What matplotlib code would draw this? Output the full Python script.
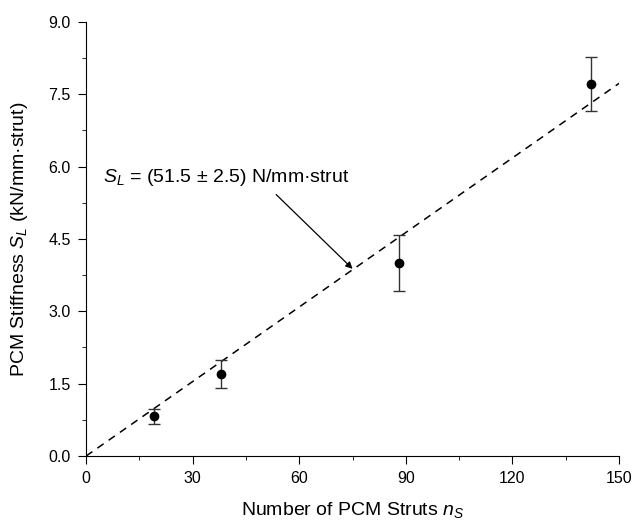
import numpy as np
import matplotlib.pyplot as plt
from matplotlib.ticker import AutoMinorLocator

# data
struts = [19, 38, 88, 142]
stiffness = [0.82, 1.70, 4.00, 7.72]
stiff_err = [0.15, 0.30, 0.58, 0.56]

slope = 0.0515  # kN/mm per strut (51.5 N/mm.strut)
fit_x = [0, 150]

plt.rcParams['font.family'] = 'Liberation Sans'
plt.rcParams['mathtext.fontset'] = 'custom'
plt.rcParams['mathtext.rm'] = 'Liberation Sans'
plt.rcParams['mathtext.it'] = 'Liberation Sans:italic'

fig = plt.figure(figsize=(6.33, 5.2), dpi=100)
ax = fig.add_axes([0.136, 0.123, 0.842, 0.835])

# fit line
ax.plot(fit_x, [slope * v for v in fit_x], color='black', linestyle=(0, (5, 4)), linewidth=1.1)

# measured points
ax.errorbar(struts, stiffness, yerr=stiff_err, fmt='o', color='black', markersize=6,
            ecolor='#333333', elinewidth=1, capsize=4, capthick=1)

# fit label and its arrow
ax.text(4.8, 5.77, r'$S_L$ = (51.5 ± 2.5) N/mm·strut', fontsize=14, va='center')
ax.annotate('', xy=(75, 3.88), xytext=(53.5, 5.42),
            arrowprops=dict(arrowstyle='-|>', color='black', lw=0.9,
                            shrinkA=0, shrinkB=0, mutation_scale=10))

ax.set_xlim(0, 150)
ax.set_ylim(0, 9)
ax.set_xticks(np.arange(0, 151, 30))
ax.set_yticks(np.arange(0, 9.1, 1.5))
ax.set_yticklabels(['%.1f' % v for v in np.arange(0, 9.1, 1.5)])
ax.xaxis.set_minor_locator(AutoMinorLocator(2))
ax.yaxis.set_minor_locator(AutoMinorLocator(2))
ax.tick_params(which='major', direction='out', labelsize=11.5, length=6, pad=5)
ax.tick_params(which='minor', direction='out', length=3)

ax.spines['top'].set_visible(False)
ax.spines['right'].set_visible(False)

ax.set_xlabel(r'Number of PCM Struts $n_S$', fontsize=14, labelpad=10)
ax.set_ylabel(r'PCM Stiffness $S_L$ (kN/mm·strut)', fontsize=14, labelpad=13)

fig.savefig('out.png')
